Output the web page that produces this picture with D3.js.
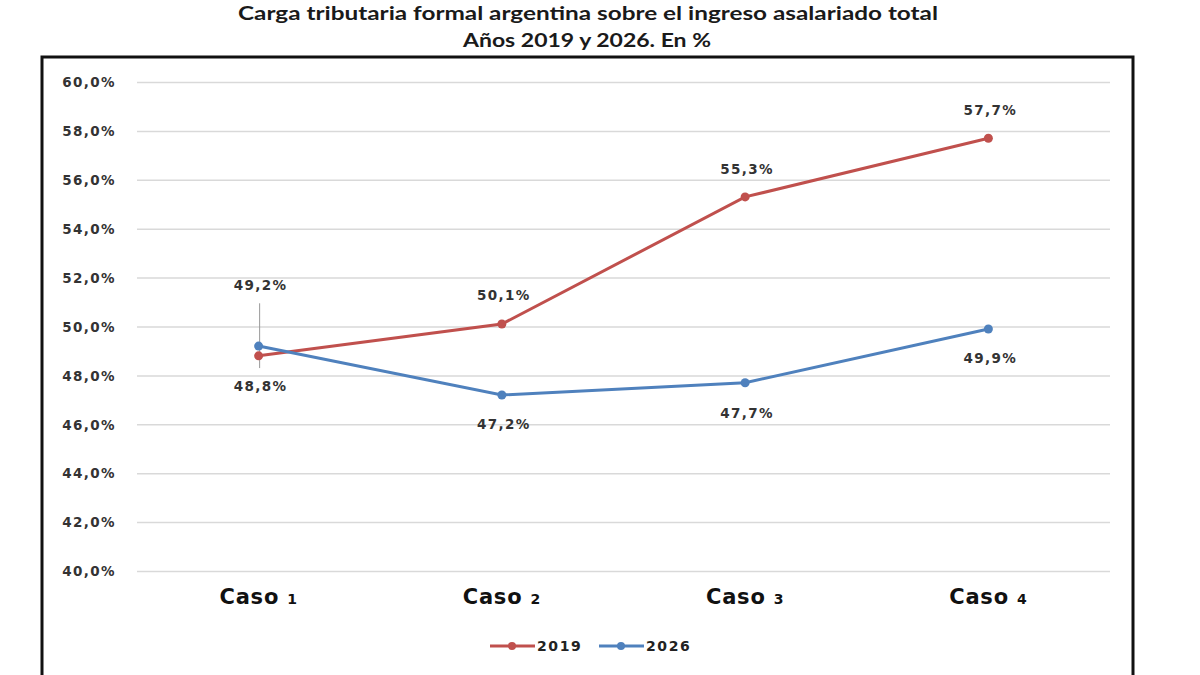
<!DOCTYPE html>
<html>
<head>
<meta charset="utf-8">
<script src="https://cdn.jsdelivr.net/npm/d3@7"></script>
<style>
  body { margin: 0; background: #fff; }
  svg { display: block; }
  .title { font-family: Lato, "Open Sans", sans-serif; font-weight: bold; font-size: 19px; fill: #1a1a1a; }
  .tick-label { font-family: "DejaVu Sans", sans-serif; font-weight: bold; font-size: 13.5px; letter-spacing: 1.4px; fill: #333; }
  .data-label { font-family: "DejaVu Sans", sans-serif; font-weight: bold; font-size: 13.5px; letter-spacing: 1.4px; fill: #333; }
  .cat-label { font-family: "DejaVu Sans", sans-serif; font-weight: bold; font-size: 21px; letter-spacing: 0.8px; fill: #111; }
  .legend-label { font-family: "DejaVu Sans", sans-serif; font-weight: bold; font-size: 14px; letter-spacing: 1.6px; fill: #222; }
</style>
</head>
<body>
<svg id="chart" width="1200" height="675"></svg>
<script>
// Chart data
const categories = ['Caso 1', 'Caso 2', 'Caso 3', 'Caso 4'];
const values2019 = [48.8, 50.1, 55.3, 57.7];
const values2026 = [49.2, 47.2, 47.7, 49.9];
const yTicks = [40, 42, 44, 46, 48, 50, 52, 54, 56, 58, 60];
const seriesNames = ['2019', '2026'];

const colors = {'2019': '#C0504D', '2026': '#4F81BD'};

const svg = d3.select('#chart');
const margin = {top: 82, left: 137, right: 90, bottom: 104};
const width = 1200 - margin.left - margin.right;
const height = 675 - margin.top - margin.bottom;

// Outer frame
svg.append('rect')
    .attr('x', 42).attr('y', 57)
    .attr('width', 1091).attr('height', 640)
    .attr('fill', 'none')
    .attr('stroke', '#111')
    .attr('stroke-width', 3);

// Title (the original is stretched a bit horizontally)
svg.append('text').attr('class', 'title')
    .attr('x', 588).attr('y', 20)
    .attr('text-anchor', 'middle')
    .attr('textLength', 700)
    .attr('lengthAdjust', 'spacingAndGlyphs')
    .text('Carga tributaria formal argentina sobre el ingreso asalariado total');
svg.append('text').attr('class', 'title')
    .attr('x', 587).attr('y', 47)
    .attr('text-anchor', 'middle')
    .attr('textLength', 248)
    .attr('lengthAdjust', 'spacingAndGlyphs')
    .text('Años 2019 y 2026. En %');

const chart = svg.append('g')
    .attr('transform', `translate(${margin.left},${margin.top})`);

// Scales
const xScale = d3.scalePoint()
    .domain(categories)
    .range([0, width])
    .padding(0.5);

const yScale = d3.scaleLinear()
    .domain([40, 60])
    .range([height, 0]);

// Gridlines
const yAxis = d3.axisLeft(yScale)
    .tickValues(yTicks)
    .tickSize(-width)
    .tickFormat(d => d3.format('.1f')(d).replace('.', ',') + '%');

const yAxisG = chart.append('g').call(yAxis);
yAxisG.select('.domain').remove();
yAxisG.selectAll('.tick line')
    .attr('stroke', '#d9d9d9')
    .attr('stroke-width', 1.5);
yAxisG.selectAll('.tick text')
    .attr('class', 'tick-label')
    .attr('x', -21)
    .attr('dy', '0.35em')
    .attr('font-size', null)
    .attr('font-family', null);

// Category labels (small digit like the original)
const catG = chart.append('g');
categories.forEach(c => {
  const [word, num] = c.split(' ');
  const t = catG.append('text').attr('class', 'cat-label')
      .attr('x', xScale(c))
      .attr('y', height + 33)
      .attr('text-anchor', 'middle');
  t.append('tspan').text(word + ' ');
  t.append('tspan').attr('font-size', '14px').text(num);
});

// Leader line for the overlapping first point
chart.append('line')
    .attr('x1', xScale(categories[0]) + 1).attr('x2', xScale(categories[0]) + 1)
    .attr('y1', yScale(50.95)).attr('y2', yScale(48.3))
    .attr('stroke', '#999')
    .attr('stroke-width', 1);

const line = d3.line()
    .x((d, i) => xScale(categories[i]))
    .y(d => yScale(d));

const fmt = v => d3.format('.1f')(v).replace('.', ',') + '%';

function drawSeries(name, values, labelOffsets) {
  const color = colors[name];
  chart.append('path')
      .datum(values)
      .attr('d', line)
      .attr('fill', 'none')
      .attr('stroke', color)
      .attr('stroke-width', 3);

  chart.selectAll('.pt-' + name)
      .data(values)
    .join('circle')
      .attr('class', 'pt-' + name)
      .attr('cx', (d, i) => xScale(categories[i]))
      .attr('cy', d => yScale(d))
      .attr('r', 4.5)
      .attr('fill', color);

  chart.selectAll('.lbl-' + name)
      .data(values)
    .join('text')
      .attr('class', 'data-label')
      .attr('x', (d, i) => xScale(categories[i]) + 2)
      .attr('y', (d, i) => yScale(d) + labelOffsets[i])
      .attr('text-anchor', 'middle')
      .text(fmt);
}

// label offsets: negative = above the point, positive = below
drawSeries('2019', values2019, [35, -24, -23, -23]);
drawSeries('2026', values2026, [-56, 34, 35, 34]);

// Legend
const legend = svg.append('g').attr('transform', 'translate(490,646)');
seriesNames.forEach((name, i) => {
  const g = legend.append('g').attr('transform', `translate(${i * 109},0)`);
  g.append('line')
      .attr('x1', 0).attr('x2', 45)
      .attr('stroke', colors[name])
      .attr('stroke-width', 3);
  g.append('circle')
      .attr('cx', 22).attr('r', 4)
      .attr('fill', colors[name]);
  g.append('text').attr('class', 'legend-label')
      .attr('x', 47).attr('dy', '0.35em')
      .text(name);
});
</script>
</body>
</html>
